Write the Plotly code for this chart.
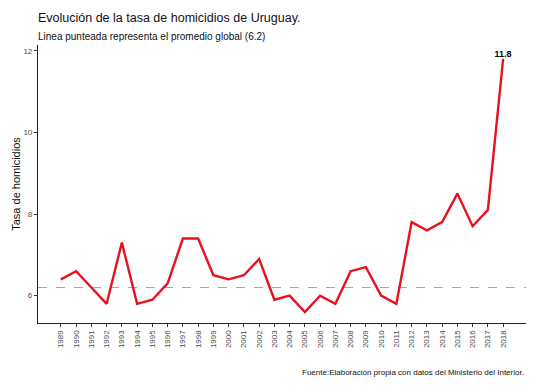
import plotly.graph_objects as go

years = list(range(1989, 2019))
tasa = [6.4, 6.6, 6.2, 5.8, 7.3, 5.8, 5.9, 6.3, 7.4, 7.4,
        6.5, 6.4, 6.5, 6.9, 5.9, 6.0, 5.6, 6.0, 5.8, 6.6,
        6.7, 6.0, 5.8, 7.8, 7.6, 7.8, 8.5, 7.7, 8.1, 11.8]
promedio_global = 6.2
y_ticks = [6, 8, 10, 12]

fig = go.Figure()
fig.add_trace(go.Scatter(
    x=[years[0] - 1.5, years[-1] + 1.5], y=[promedio_global, promedio_global],
    mode="lines", line=dict(color="#a6a6a6", width=1.2, dash="dash"),
    hoverinfo="skip", showlegend=False))
fig.add_trace(go.Scatter(
    x=years, y=tasa, mode="lines",
    line=dict(color="#e8121f", width=2.4), showlegend=False))
fig.add_trace(go.Scatter(
    x=[years[-1]], y=[tasa[-1]], mode="text",
    text=[f"<b>{tasa[-1]}</b>"], textposition="top center",
    textfont=dict(size=9, color="black", family="Liberation Sans"),
    showlegend=False))

fig.update_layout(
    width=541, height=392,
    margin=dict(l=38, r=15, t=45, b=69),
    plot_bgcolor="white", paper_bgcolor="white",
    font=dict(family="Liberation Sans, Arial", color="#222"),
    xaxis=dict(
        range=[years[0] - 1.5, years[-1] + 1.5],
        tickmode="array", tickvals=years, ticktext=[str(y) for y in years],
        tickangle=-90, tickfont=dict(size=8, color="#4d4d4d"),
        ticks="outside", ticklen=3, tickcolor="#333",
        showline=True, linecolor="#222", linewidth=1.2,
        showgrid=False, zeroline=False, automargin=False),
    yaxis=dict(
        range=[5.33, 12.14],
        tickmode="array", tickvals=y_ticks, ticktext=[str(v) for v in y_ticks],
        tickfont=dict(size=8, color="#4d4d4d"),
        ticks="outside", ticklen=3, tickcolor="#333",
        showline=True, linecolor="#222", linewidth=1.2,
        showgrid=False, zeroline=False, automargin=False,
        title=dict(text="Tasa de homicidios", font=dict(size=11, color="#111"), standoff=0)),
    annotations=[
        dict(text="Evolución de la tasa de homicidios de Uruguay.",
             xref="paper", yref="paper", x=0, y=1, xshift=-2, yshift=27,
             xanchor="left", yanchor="middle", showarrow=False,
             font=dict(size=12.5, color="#111")),
        dict(text="Linea punteada representa el promedio global (6.2)",
             xref="paper", yref="paper", x=0, y=1, xshift=-2, yshift=9,
             xanchor="left", yanchor="middle", showarrow=False,
             font=dict(size=10, color="#111")),
        dict(text="Fuente:Elaboración propia con datos del Ministerio del Interior.",
             xref="paper", yref="paper", x=1, y=0, yshift=-49,
             xanchor="right", yanchor="middle", showarrow=False,
             font=dict(size=8, color="#111"))],
)

fig.write_html("out.html", config={"displayModeBar": False},
               post_script="document.body.style.margin='0';")
